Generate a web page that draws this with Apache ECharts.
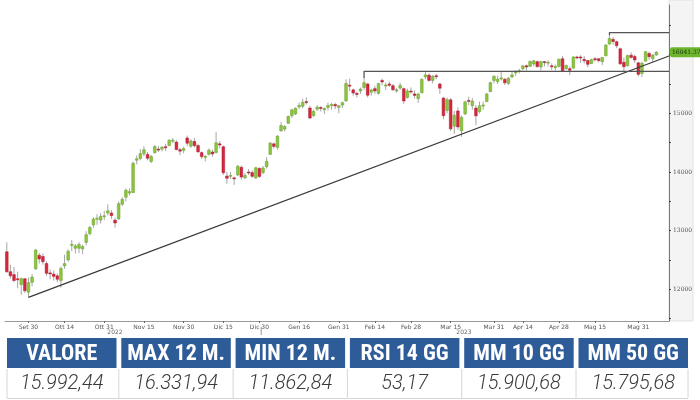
<!DOCTYPE html>
<html><head><meta charset="utf-8">
<script src="https://cdn.jsdelivr.net/npm/echarts@6/dist/echarts.min.js"></script>
<style>html,body{margin:0;padding:0;background:#fff}#c{width:700px;height:400px}</style>
</head><body><div id="c"></div>
<script>
// ---- categories (trading days) ----
const dates = [
'2022-09-22','2022-09-23','2022-09-26','2022-09-27','2022-09-28','2022-09-29','2022-09-30',
'2022-10-03','2022-10-04','2022-10-05','2022-10-06','2022-10-07','2022-10-10','2022-10-11','2022-10-12','2022-10-13','2022-10-14','2022-10-17','2022-10-18','2022-10-19','2022-10-20','2022-10-21','2022-10-24','2022-10-25','2022-10-26','2022-10-27','2022-10-28','2022-10-31',
'2022-11-01','2022-11-02','2022-11-03','2022-11-04','2022-11-07','2022-11-08','2022-11-09','2022-11-10','2022-11-11','2022-11-14','2022-11-15','2022-11-16','2022-11-17','2022-11-18','2022-11-21','2022-11-22','2022-11-23','2022-11-24','2022-11-25','2022-11-28','2022-11-29','2022-11-30',
'2022-12-01','2022-12-02','2022-12-05','2022-12-06','2022-12-07','2022-12-08','2022-12-09','2022-12-12','2022-12-13','2022-12-14','2022-12-15','2022-12-16','2022-12-19','2022-12-20','2022-12-21','2022-12-22','2022-12-23','2022-12-27','2022-12-28','2022-12-29','2022-12-30',
'2023-01-02','2023-01-03','2023-01-04','2023-01-05','2023-01-06','2023-01-09','2023-01-10','2023-01-11','2023-01-12','2023-01-13','2023-01-16','2023-01-17','2023-01-18','2023-01-19','2023-01-20','2023-01-23','2023-01-24','2023-01-25','2023-01-26','2023-01-27','2023-01-30','2023-01-31',
'2023-02-01','2023-02-02','2023-02-03','2023-02-06','2023-02-07','2023-02-08','2023-02-09','2023-02-10','2023-02-13','2023-02-14','2023-02-15','2023-02-16','2023-02-17','2023-02-20','2023-02-21','2023-02-22','2023-02-23','2023-02-24','2023-02-27','2023-02-28',
'2023-03-01','2023-03-02','2023-03-03','2023-03-06','2023-03-07','2023-03-08','2023-03-09','2023-03-10','2023-03-13','2023-03-14','2023-03-15','2023-03-16','2023-03-17','2023-03-20','2023-03-21','2023-03-22','2023-03-23','2023-03-24','2023-03-27','2023-03-28','2023-03-29','2023-03-30','2023-03-31',
'2023-04-03','2023-04-04','2023-04-05','2023-04-06','2023-04-11','2023-04-12','2023-04-13','2023-04-14','2023-04-17','2023-04-18','2023-04-19','2023-04-20','2023-04-21','2023-04-24','2023-04-25','2023-04-26','2023-04-27','2023-04-28',
'2023-05-02','2023-05-03','2023-05-04','2023-05-05','2023-05-08','2023-05-09','2023-05-10','2023-05-11','2023-05-12','2023-05-15','2023-05-16','2023-05-17','2023-05-18','2023-05-19','2023-05-22','2023-05-23','2023-05-24','2023-05-25','2023-05-26','2023-05-29','2023-05-30','2023-05-31',
'2023-06-01','2023-06-02','2023-06-05','2023-06-06','2023-06-07'
];
const padDates = ['2023-06-08','2023-06-09','2023-06-12'];

// ---- candles: [open, close, low, high] ----
const ohlc = [
[12640,12300,12280,12800],[12300,12230,12180,12420],[12250,12150,12120,12380],[12180,12170,12020,12300],[12080,12183,11905,12200],[12180,11976,11940,12190],[11950,12114,11862.84,12200],
[12120,12209,12050,12260],[12350,12670,12330,12690],[12580,12517,12440,12620],[12560,12471,12420,12610],[12440,12273,12230,12480],[12280,12273,12170,12340],[12260,12220,12150,12320],[12230,12172,12120,12270],[12150,12356,12030,12390],[12400,12438,12350,12590],[12500,12649,12470,12680],[12760,12766,12650,12840],[12700,12741,12610,12770],[12700,12767,12620,12800],[12690,12731,12600,12760],[12800,12931,12750,12990],[12950,13053,12920,13080],[13100,13196,13050,13230],[13200,13211,13100,13280],[13180,13243,13120,13300],[13250,13254,13180,13340],
[13300,13339,13260,13450],[13300,13257,13200,13350],[13180,13130,13050,13220],[13200,13460,13180,13500],[13450,13534,13420,13570],[13570,13689,13500,13720],[13640,13666,13600,13720],[13650,14146,13640,14180],[14200,14225,14130,14280],[14230,14313,14200,14390],[14310,14379,14270,14440],[14300,14234,14200,14340],[14180,14266,14150,14290],[14330,14432,14310,14460],[14390,14380,14340,14440],[14390,14422,14350,14440],[14430,14428,14360,14480],[14450,14540,14440,14560],[14530,14541,14490,14580],[14510,14383,14370,14540],[14380,14355,14290,14410],[14370,14397,14320,14430],
[14580,14490,14440,14620],[14440,14529,14410,14560],[14520,14448,14420,14580],[14450,14343,14330,14480],[14330,14261,14220,14350],[14260,14265,14180,14290],[14300,14371,14280,14400],[14340,14307,14260,14380],[14330,14498,14320,14680],[14480,14460,14400,14530],[14430,13986,13950,14450],[13930,13893,13800,14000],[13930,13943,13880,14000],[13900,13885,13780,13920],[13950,14098,13930,14120],[14080,13914,13870,14110],[13900,13941,13880,13980],[14000,13995,13950,14050],[13990,13926,13900,14030],[13900,14072,13880,14090],[14060,13924,13900,14080],
[13990,14069,13960,14100],[14090,14182,14060,14250],[14300,14491,14290,14510],[14480,14436,14400,14500],[14420,14610,14380,14630],[14700,14793,14690,14850],[14730,14775,14690,14800],[14830,14948,14820,14960],[14960,15058,14920,15080],[14990,15087,14970,15100],[15110,15134,15070,15180],[15120,15187,15090,15250],[15200,15182,15150,15270],[15090,14920,14900,15130],[14960,15034,14940,15060],[15070,15103,15040,15140],[15100,15093,15030,15120],[15060,15082,14990,15100],[15100,15133,15050,15180],[15130,15150,15060,15180],[15150,15126,15070,15180],[15100,15128,15000,15140],
[15140,15181,15090,15200],[15210,15509,15200,15580],[15480,15476,15380,15590],[15400,15346,15300,15420],[15340,15321,15270,15370],[15380,15412,15330,15440],[15440,15523,15400,15600],[15500,15308,15270,15520],[15360,15397,15300,15420],[15420,15381,15330,15470],[15340,15506,15320,15520],[15560,15534,15480,15590],[15480,15482,15400,15520],[15500,15478,15450,15540],[15470,15402,15380,15500],[15380,15400,15350,15430],[15430,15476,15400,15520],[15420,15210,15160,15440],[15270,15381,15250,15420],[15380,15365,15330,15440],
[15330,15305,15250,15390],[15250,15328,15180,15350],[15350,15578,15340,15600],[15620,15654,15580,15706],[15650,15560,15540,15680],[15560,15632,15510,15650],[15640,15633,15580,15670],[15500,15428,15330,15520],[15260,14959,14900,15280],[15050,15233,15000,15270],[15230,14735,14700,15260],[14780,14967,14650,15040],[15040,14768,14720,15100],[14700,14933,14600,14960],[14990,15195,14970,15210],[15220,15216,15140,15280],[15130,15210,15060,15260],[15090,14957,14800,15140],[15030,15128,15000,15200],[15130,15142,15060,15200],[15200,15329,15190,15350],[15370,15522,15360,15540],[15560,15629,15510,15650],
[15540,15581,15500,15640],[15600,15603,15560,15700],[15580,15520,15480,15600],[15510,15598,15480,15620],[15620,15655,15600,15710],[15700,15704,15640,15740],[15720,15729,15680,15760],[15760,15808,15730,15820],[15810,15790,15730,15830],[15800,15883,15790,15900],[15840,15895,15800,15910],[15880,15796,15780,15900],[15790,15882,15730,15890],[15880,15864,15800,15890],[15870,15872,15800,15900],[15810,15796,15740,15850],[15780,15800,15730,15830],[15800,15922,15780,15930],
[15930,15727,15700,15980],[15760,15815,15740,15830],[15760,15734,15650,15800],[15770,15961,15760,15970],[15960,15953,15920,15980],[15960,15955,15860,15990],[15920,15896,15850,15980],[15900,15835,15780,15910],[15850,15914,15840,15930],[15930,15917,15880,15960],[15930,15898,15870,15940],[15880,15952,15820,15960],[15980,16163,15970,16180],[16180,16275,16170,16331.94],[16260,16224,16170,16300],[16220,16153,16110,16240],[16100,15842,15830,16120],[15870,15794,15720,15950],[15810,15984,15800,16000],[15990,15953,15930,16040],[15970,15909,15860,16000],[15860,15664,15630,15880],
[15680,15854,15620,15880],[15890,16051,15880,16060],[16020,15964,15910,16050],[15930,15992,15880,16010],[15995,16041.37,15980,16060]
];

// ---- axis ticks / labels ----
const tickDates  = ['2022-09-30','2022-10-14','2022-10-31','2022-11-15','2022-11-30','2022-12-15','2022-12-30','2023-01-16','2023-01-31','2023-02-14','2023-02-28','2023-03-15','2023-03-31','2023-04-14','2023-04-28','2023-05-15','2023-05-31'];
const tickLabels = ['Set 30','Ott 14','Ott 31','Nov 15','Nov 30','Dic 15','Dic 30','Gen 16','Gen 31','Feb 14','Feb 28','Mar 15','Mar 31','Apr 14','Apr 28','Mag 15','Mag 31'];
const yearLabels = ['2022','2023'];
const yLabelValues = [12000,13000,14000,15000];
const yTickValues  = [11500,12000,12500,13000,13500,14000,14500,15000,15500,16000,16500];
const lastPrice = 16041.37;

// ---- drawn lines: [date, price] ----
const trendLine   = [['2022-09-30',11862.84],['end',15976]];
const topLine     = [['2023-05-19',16331.94],['2023-05-19',16376],['end',16376]];
const midLine     = [['2023-02-09',15600],['2023-02-09',15715],['end',15715]];

// ---- table ----
const tableHeaders = ['VALORE','MAX 12 M.','MIN 12 M.','RSI 14 GG','MM 10 GG','MM 50 GG'];
const tableValues  = ['15.992,44','16.331,94','11.862,84','53,17','15.900,68','15.795,68'];

const cats = dates.concat(padDates);
const N = cats.length;
const idx = d => d === 'end' ? N : cats.indexOf(d) + 0.5;
const toXY = arr => arr.map(p => [idx(p[0]), p[1]]);

const candleData = ohlc.map((r, i) => [i, r[0], r[1], r[2], r[3]]);

const chart = echarts.init(document.getElementById('c'), null, {renderer: 'canvas'});

const gridL = 5, gridR = 31, gridT = 5, gridB = 79;

const lineSeries = (data, w, color) => ({
  type: 'line', xAxisIndex: 1, yAxisIndex: 0, data: toXY(data), symbol: 'none',
  lineStyle: {color: color, width: w}, silent: true, z: 3, animation: false
});

const graphics = [];
// right axis strip
graphics.push({type: 'rect', z: -10, shape: {x: 700 - gridR, y: 0, width: 24, height: 400 - gridB}, style: {fill: '#f4f4f4', stroke: '#e2e2e2', lineWidth: 1}});
// table
const cellW = 109.5, cellStep = 114.3, cellX0 = 7;
tableHeaders.forEach((h, i) => {
  const x = cellX0 + i * cellStep;
  graphics.push({type: 'rect', shape: {x: x, y: 338, width: cellW, height: 30}, style: {fill: '#2e5c99'}});
  graphics.push({type: 'text', x: x + cellW / 2, y: 354, style: {text: h, fill: '#fff', font: 'bold 22px "Liberation Sans Narrow","Roboto Condensed","DejaVu Sans Condensed",sans-serif', align: 'center', verticalAlign: 'middle'}});
  graphics.push({type: 'text', x: x + cellW / 2, y: 384, style: {text: tableValues[i], fill: '#3a3a3a', font: 'italic 300 20px Roboto,"Open Sans",sans-serif', align: 'center', verticalAlign: 'middle'}});
  if (i > 0) graphics.push({type: 'line', shape: {x1: x - 2.5, y1: 369, x2: x - 2.5, y2: 398}, style: {stroke: '#d6d6d6', lineWidth: 1}});
});
graphics.push({type: 'line', shape: {x1: cellX0, y1: 398.5, x2: cellX0 + 5 * cellStep + cellW, y2: 398.5}, style: {stroke: '#d6d6d6', lineWidth: 1}});
graphics.push({type: 'line', shape: {x1: cellX0, y1: 369, x2: cellX0, y2: 398}, style: {stroke: '#d6d6d6', lineWidth: 1}});
graphics.push({type: 'line', shape: {x1: cellX0 + 5 * cellStep + cellW, y1: 369, x2: cellX0 + 5 * cellStep + cellW, y2: 398}, style: {stroke: '#d6d6d6', lineWidth: 1}});
// year labels
graphics.push({type: 'text', x: 115, y: 332, style: {text: yearLabels[0], fill: '#666', font: '6px "DejaVu Sans",sans-serif', align: 'center', verticalAlign: 'middle'}});
graphics.push({type: 'text', x: 464, y: 332, style: {text: yearLabels[1], fill: '#666', font: '6px "DejaVu Sans",sans-serif', align: 'center', verticalAlign: 'middle'}});

const option = {
  animation: false,
  backgroundColor: '#fff',
  grid: {left: gridL, right: gridR, top: gridT, bottom: gridB, containLabel: false},
  xAxis: [
    {type: 'category', data: cats, boundaryGap: true,
     axisLine: {show: true, onZero: false, lineStyle: {color: '#999', width: 1}},
     axisTick: {show: true, alignWithLabel: true, length: 2, interval: (i, v) => tickDates.indexOf(v) >= 0, lineStyle: {color: '#666'}},
     axisLabel: {show: true, interval: (i, v) => tickDates.indexOf(v) >= 0, formatter: v => tickLabels[tickDates.indexOf(v)] || '', fontSize: 6, color: '#555', margin: 3, fontFamily: 'DejaVu Sans'},
     splitLine: {show: false}},
    {type: 'value', min: 0, max: N, show: false}
  ],
  yAxis: [{
    type: 'value', position: 'right', min: 11460, max: 16846, scale: true,
    axisLine: {show: true, onZero: false, lineStyle: {color: '#777', width: 1}},
    axisTick: {show: true, customValues: yTickValues, length: 2, lineStyle: {color: '#444'}},
    axisLabel: {show: true, customValues: yLabelValues, fontSize: 6, color: '#555', margin: 4, fontFamily: 'DejaVu Serif', formatter: v => String(v)},
    splitLine: {show: false}
  }],
  graphic: graphics,
  series: [
    {
      type: 'custom', xAxisIndex: 0, yAxisIndex: 0, data: candleData, z: 2,
      encode: {x: 0, y: [1, 2, 3, 4]},
      renderItem: function (params, api) {
        const i = api.value(0), o = api.value(1), c = api.value(2), l = api.value(3), h = api.value(4);
        const pO = api.coord([i, o]), pC = api.coord([i, c]), pL = api.coord([i, l]), pH = api.coord([i, h]);
        const w = api.size([1, 0])[0] * 0.75;
        const up = c >= o;
        const top = Math.min(pO[1], pC[1]);
        const hh = Math.max(Math.abs(pO[1] - pC[1]), 1);
        return {type: 'group', children: [
          {type: 'line', shape: {x1: pL[0], y1: pL[1], x2: pH[0], y2: pH[1]}, style: {stroke: '#8f8f8f', lineWidth: 0.8}},
          {type: 'rect', shape: {x: pO[0] - w / 2, y: top, width: w, height: hh},
           style: {fill: up ? '#8cc63f' : '#d7263d', stroke: up ? '#6a9e2c' : '#a91d31', lineWidth: 0.5}}
        ]};
      }
    },
    {
      type: 'line', xAxisIndex: 1, yAxisIndex: 0, data: [], symbol: 'none', silent: true, z: 5,
      markLine: {
        silent: true, symbol: 'none', animation: false,
        lineStyle: {color: 'rgba(0,0,0,0)', width: 0},
        label: {show: true, position: 'end', distance: 1, formatter: String(lastPrice), fontSize: 6, color: '#17320a',
                backgroundColor: '#6db52f', padding: [2, 2, 2, 2], borderRadius: 2, fontFamily: 'DejaVu Serif'},
        data: [{yAxis: lastPrice}]
      }
    },
    lineSeries(trendLine, 1.2, '#3a3a3a'),
    lineSeries(topLine, 1.3, '#555'),
    lineSeries(midLine, 1.3, '#555')
  ]
};
chart.setOption(option);
// year separator on the axis (boundary between last 2022 and first 2023 trading day)
const sepX = chart.convertToPixel({xAxisIndex: 1}, cats.indexOf('2023-01-02'));
chart.setOption({graphic: graphics.concat([{type: 'line', shape: {x1: sepX, y1: 400 - gridB + 6, x2: sepX, y2: 400 - gridB + 14}, style: {stroke: '#999', lineWidth: 1}}])});
</script></body></html>
